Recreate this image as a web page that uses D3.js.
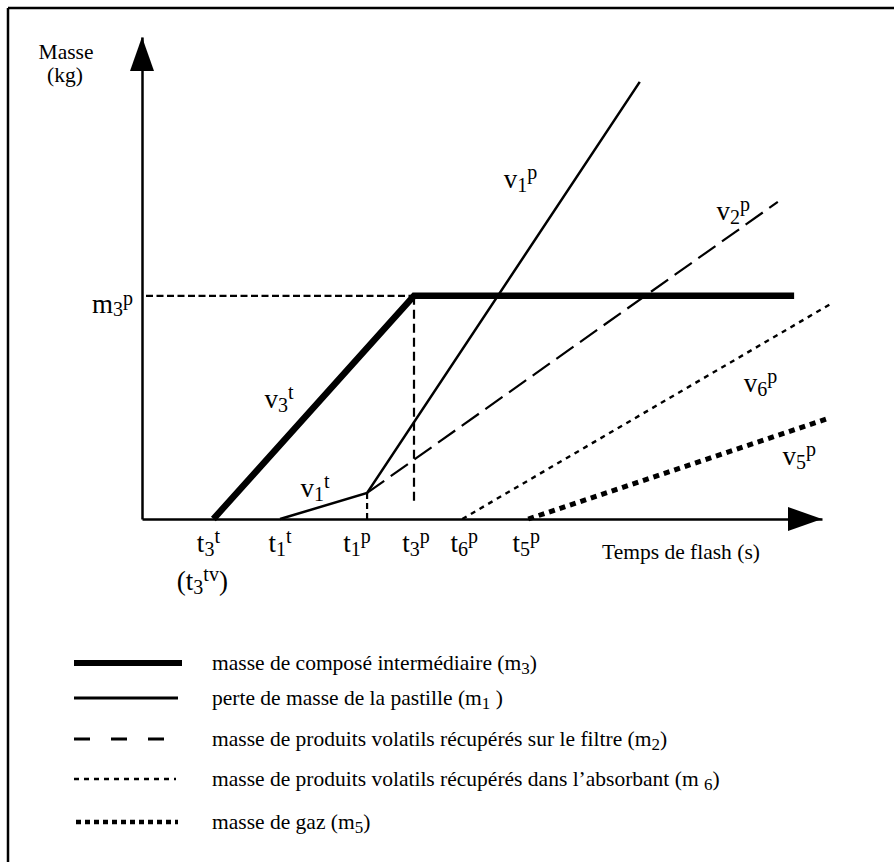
<!DOCTYPE html>
<html><head><meta charset="utf-8">
<script src="https://cdn.jsdelivr.net/npm/d3@7"></script>
<style>
body{margin:0;background:#fff}
svg{display:block}
text{font-family:"Liberation Serif","Times New Roman",serif;fill:#000}
</style>
</head><body>
<svg id="c" width="894" height="862"></svg>
<script>
// ---------- data (schematic units) ----------
const m3Points = [[1.05, 0], [4.0, 4.63], [9.59, 4.63]];   // masse de composé intermédiaire
const m1Points = [[2.03, 0], [3.31, 0.54], [7.32, 9.07]];  // perte de masse de la pastille
const m2Points = [[3.31, 0.54], [9.35, 6.58]];             // produits volatils sur filtre
const m6Points = [[4.71, 0], [10.15, 4.48]];               // produits volatils absorbant
const m5Points = [[5.68, 0], [10.12, 2.10]];               // gaz
const m3pLevel = 4.63;
const t1pValue = 3.31;
const t3pValue = 4.0;

const xTickValues = [1.05, 2.03, 3.31, 4.0, 4.71, 5.68];
const xTickLabels = [
  [["t",0],["3",-1],["t",1]],
  [["t",0],["1",-1],["t",1]],
  [["t",0],["1",-1],["p",1]],
  [["t",0],["3",-1],["p",1]],
  [["t",0],["6",-1],["p",1]],
  [["t",0],["5",-1],["p",1]]
];
const xTickShift = [-5, 0, -10, 2, 2, -2];

const slopeLabelPos = [[1.80, 2.30], [2.33, 0.46], [5.32, 6.87], [8.45, 6.20], [8.85, 2.63], [9.42, 1.12]];
const slopeLabels = [
  [["v",0],["3",-1],["t",1]],
  [["v",0],["1",-1],["t",1]],
  [["v",0],["1",-1],["p",1]],
  [["v",0],["2",-1],["p",1]],
  [["v",0],["6",-1],["p",1]],
  [["v",0],["5",-1],["p",1]]
];

const legendLabels = [
  [["masse de composé intermédiaire (m",0],["3",-1],[")",0]],
  [["perte de masse de la pastille (m",0],["1",-1],[" )",0]],
  [["masse de produits volatils récupérés sur le filtre (m",0],["2",-1],[")",0]],
  [["masse de produits volatils récupérés dans l’absorbant (m ",0],["6",-1],[")",0]],
  [["masse de gaz (m",0],["5",-1],[")",0]]
];

// ---------- layout ----------
const svg = d3.select("#c");
const x = d3.scaleLinear().domain([0, 10]).range([142, 822]);
const y = d3.scaleLinear().domain([0, 10]).range([519, 37]);

const styles = [
  {w: 6.5, dash: null},
  {w: 2.5, dash: null},
  {w: 2.2, dash: "21,8"},
  {w: 2.4, dash: "5,5"},
  {w: 5, dash: "6,5"}
];
const series = [m3Points, m1Points, m2Points, m6Points, m5Points];

function rich(t, parts, base, small, subDy, supDy) {
  let cur = 0;
  parts.forEach(([s, k]) => {
    const target = k === -1 ? subDy : (k === 1 ? -supDy : 0);
    t.append("tspan").attr("dy", target - cur).attr("font-size", k === 0 ? base : small).text(s);
    cur = target;
  });
}

// frame
svg.append("line").attr("x1", 8).attr("y1", 8).attr("x2", 894).attr("y2", 8).attr("stroke", "#000").attr("stroke-width", 2.5);
svg.append("line").attr("x1", 8).attr("y1", 8).attr("x2", 8).attr("y2", 862).attr("stroke", "#000").attr("stroke-width", 2.5);

// axes
const gx = svg.append("g").attr("transform", `translate(0,${y(0)})`)
  .call(d3.axisBottom(x).tickValues([]).tickSizeOuter(0));
const gy = svg.append("g").attr("transform", `translate(${x(0)},0)`)
  .call(d3.axisLeft(y).tickValues([]).tickSizeOuter(0));
[gx, gy].forEach(g => g.select(".domain").attr("stroke", "#000").attr("stroke-width", 2.5));

// arrowheads
svg.append("path").attr("d", `M${x(0)-12},${y(10)+34} L${x(0)+12},${y(10)+34} L${x(0)},${y(10)} Z`).attr("fill", "#000");
svg.append("path").attr("d", `M${x(10)-34},${y(0)-12} L${x(10)-34},${y(0)+12} L${x(10)},${y(0)} Z`).attr("fill", "#000");

// reference dashed lines
const ref = svg.append("g").attr("stroke", "#000").attr("stroke-width", 2.2).attr("fill", "none");
ref.append("line").attr("x1", x(0)+4).attr("x2", x(t3pValue)).attr("y1", y(m3pLevel)).attr("y2", y(m3pLevel)).attr("stroke-dasharray", "7,3.5");
ref.append("line").attr("x1", x(t3pValue)).attr("x2", x(t3pValue)).attr("y1", y(m3pLevel)).attr("y2", y(0)-14).attr("stroke-dasharray", "9,5");
ref.append("line").attr("x1", x(t1pValue)).attr("x2", x(t1pValue)).attr("y1", y(0.54)).attr("y2", y(0)).attr("stroke-dasharray", "6,4");

// series
const line = d3.line().x(d => x(d[0])).y(d => y(d[1]));
series.forEach((pts, i) => {
  svg.append("path").datum(pts).attr("d", line).attr("fill", "none").attr("stroke", "#000")
    .attr("stroke-width", styles[i].w).attr("stroke-dasharray", styles[i].dash);
});

// axis titles
svg.append("text").attr("x", 66).attr("y", 59).attr("text-anchor", "middle").attr("font-size", 21.5).text("Masse");
svg.append("text").attr("x", 65).attr("y", 82).attr("text-anchor", "middle").attr("font-size", 21.5).text("(kg)");
svg.append("text").attr("x", 602).attr("y", 559).attr("font-size", 21.5).text("Temps de flash (s)");

// m3p label
rich(svg.append("text").attr("x", x(0)-9).attr("y", y(m3pLevel)+17).attr("text-anchor", "end"),
  [["m",0],["3",-1],["p",1]], 27, 20, 3, 8);

// tick labels
xTickValues.forEach((v, i) => {
  rich(svg.append("text").attr("x", x(v)+xTickShift[i]).attr("y", y(0)+33).attr("text-anchor", "middle"),
    xTickLabels[i], 27, 20, 4, 9);
});
rich(svg.append("text").attr("x", x(xTickValues[0])-11).attr("y", y(0)+71).attr("text-anchor", "middle"),
  [["(t",0],["3",-1],["tv",1],[")",0]], 27, 20, 4, 9);

// slope labels
slopeLabels.forEach((p, i) => {
  rich(svg.append("text").attr("x", x(slopeLabelPos[i][0])).attr("y", y(slopeLabelPos[i][1])),
    p, 27, 20, 4, 9);
});

// legend
const legendY = [663, 698, 739, 779, 822];
const legendStyles = [
  {w: 6, dash: null, x1: 74, x2: 182},
  {w: 3, dash: null, x1: 74, x2: 178},
  {w: 3, dash: "16,21", x1: 74, x2: 164},
  {w: 2.5, dash: "5,5", x1: 74, x2: 176},
  {w: 4.5, dash: "5,4", x1: 76, x2: 178}
];
legendLabels.forEach((p, i) => {
  const s = legendStyles[i];
  svg.append("line").attr("x1", s.x1).attr("x2", s.x2).attr("y1", legendY[i]).attr("y2", legendY[i])
    .attr("stroke", "#000").attr("stroke-width", s.w).attr("stroke-dasharray", s.dash);
  rich(svg.append("text").attr("x", 212).attr("y", legendY[i]+7),
    p, 21.5, 17, 4, 6);
});
</script>
</body></html>
